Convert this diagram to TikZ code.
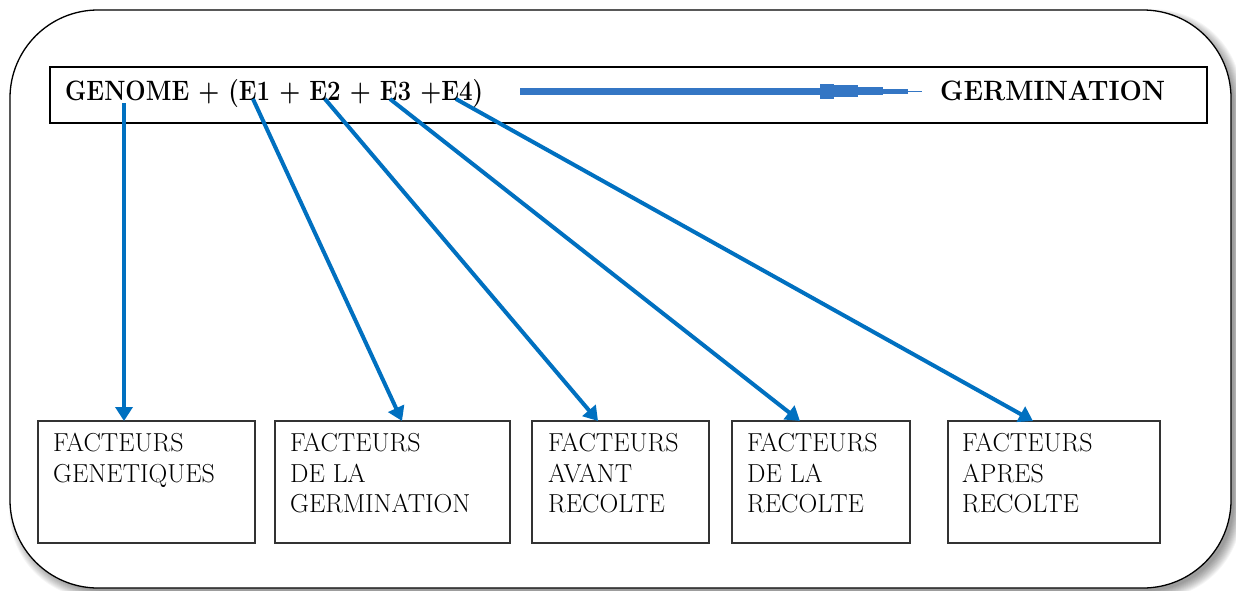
\documentclass[tikz,border=0pt]{standalone}
\usepackage{fontspec}
\usetikzlibrary{arrows.meta}
\definecolor{arrblue}{RGB}{0,112,192}
\definecolor{linkblue}{RGB}{52,118,196}
\tikzset{
  frame/.style={draw=black, line width=1.3pt, fill=white, rounded corners=88pt},
  topbox/.style={draw=black, line width=1.5pt, inner sep=0pt, outer sep=0pt, anchor=north west},
  factbox/.style={draw=black!80, line width=1.1pt, inner sep=0pt, outer sep=0pt, anchor=north west, minimum height=122pt},
  toptext/.style={anchor=base west, inner sep=0pt, font=\fontsize{28}{30}\selectfont\bfseries},
  facttext/.style={anchor=north west, inner sep=0pt, align=left, font=\fontsize{26}{30.5}\selectfont\addfontfeatures{FakeBold=1}},
  conn/.style={draw=arrblue, line width=4pt, -{Triangle[width=17pt,length=14pt]}},
}
\begin{document}
\begin{tikzpicture}[x=1pt,y=-1pt]
\useasboundingbox (0,0) rectangle (1236,590);
% soft shadow of the frame
\foreach \i in {0,...,11}{
  \fill[black, opacity=0.04, rounded corners=88pt]
    ({10+7-\i*0.7},{10+7-\i*0.7}) rectangle ({1231+3+\i*0.7},{588+3+\i*0.7});
}
\draw[frame] (10,10) rectangle (1231,588);

% top bar
\node[topbox, minimum width=1157pt, minimum height=56pt] (top) at (50,67) {};
\node[toptext] (genome) at (65,100) {\resizebox{418pt}{\height}{GENOME + (E1 + E2 + E3 +E4)}};
\node[toptext] (germ) at (940,100) {\resizebox{225pt}{\height}{GERMINATION}};

% arrow towards GERMINATION
\fill[linkblue] (520,88) rectangle (820,95);
\fill[linkblue] (820,83.5) rectangle (834,99);
\fill[linkblue] (834,85) rectangle (858,97);
\fill[linkblue] (858,87) rectangle (883,95);
\fill[linkblue] (883,89) rectangle (908,93.5);
\fill[linkblue] (908,90.5) rectangle (922,91.7);

% factor boxes
\node[factbox, minimum width=217pt] (b1) at (38,421) {};
\node[factbox, minimum width=235pt] (b2) at (275,421) {};
\node[factbox, minimum width=177pt] (b3) at (532,421) {};
\node[factbox, minimum width=178pt] (b4) at (732,421) {};
\node[factbox, minimum width=212pt] (b5) at (948,421) {};

\node[facttext] (l1) at (53,433) {FACTEURS\\GENETIQUES};
\node[facttext] (l2) at (290,433) {FACTEURS\\DE LA\\GERMINATION};
\node[facttext] (l3) at (548,433) {FACTEURS\\AVANT\\RECOLTE};
\node[facttext] (l4) at (747,433) {FACTEURS\\DE LA\\RECOLTE};
\node[facttext] (l5) at (962,433) {FACTEURS\\APRES\\RECOLTE};

% start points on the formula
\coordinate (s0) at (124,103);
\coordinate (s1) at (253,99);
\coordinate (s2) at (325,99);
\coordinate (s3) at (390,99);
\coordinate (s4) at (456,99);

\draw[conn] (s0) -- ([xshift=86pt]b1.north west);
\draw[conn] (s1) -- ([xshift=127pt]b2.north west);
\draw[conn] (s2) -- ([xshift=66pt]b3.north west);
\draw[conn] (s3) -- ([xshift=68pt]b4.north west);
\draw[conn] (s4) -- ([xshift=85pt]b5.north west);
\end{tikzpicture}
\end{document}
